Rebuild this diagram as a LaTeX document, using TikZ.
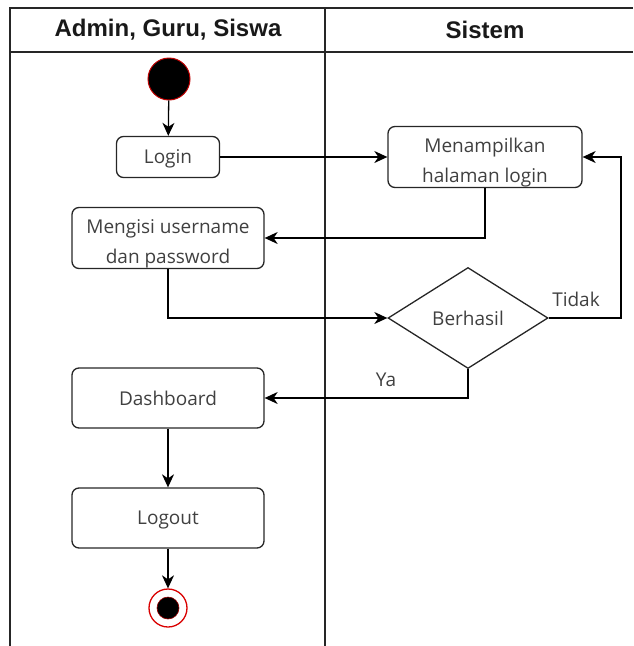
\documentclass[tikz,border=0pt]{standalone}
\usepackage{fontspec}
\setmainfont{Open Sans}
\newfontfamily\headfont{Liberation Sans}
\usetikzlibrary{arrows.meta,shapes.geometric}
\tikzset{
  lane/.style={draw=black!85, line width=1.8pt},
  act/.style={draw=black!85, line width=1.3pt, rounded corners=7pt, align=center,
    inner sep=0pt, text=black!75, text depth=0pt, font=\fontsize{19}{30}\selectfont},
  twoline/.style={text height=50pt, text depth=0pt},
  decision/.style={diamond, draw=black!85, line width=1.3pt, inner sep=0pt,
    minimum width=160pt, minimum height=101pt, text=black!75,
    font=\fontsize{19}{30}\selectfont},
  flow/.style={draw=black, line width=1.3pt,
    -{Stealth[length=13pt,width=12pt,inset=4pt]}},
  lbl/.style={text=black!75, font=\fontsize{19}{24}\selectfont, inner sep=0pt},
  head/.style={font=\headfont\bfseries\fontsize{24}{28}\selectfont, text=black!90}
}
\begin{document}
\begin{tikzpicture}[x=1pt,y=-1pt]
\useasboundingbox (0,0) rectangle (633,646);
% swimlane frame
\draw[lane] (10,646) -- (10,8) -- (633,8);
\draw[lane] (10,52) -- (633,52);
\draw[lane] (325,8) -- (325,646);
\node[head] (laneA) at (168,30) {Admin, Guru, Siswa};
\node[head] (laneB) at (485,30) {Sistem};

% start and end states
\node[circle, fill=black, draw=red!75!black, line width=1pt, minimum size=42pt, inner sep=0pt] (start) at (169,79) {};
\node[circle, draw=red!85!black, line width=1.3pt, minimum size=38pt, inner sep=0pt] (end) at (168,608) {};
\node[circle, fill=black, draw=red!60!black, line width=0.6pt, minimum size=22pt, inner sep=0pt] (endcore) at (end.center) {};

% activities
\node[act, minimum width=103pt, minimum height=41pt] (login) at (168,157) {Login};
\node[act, twoline, minimum width=194pt, minimum height=61pt] (tampil) at (485,157) {Menampilkan\\halaman login};
\node[act, twoline, minimum width=192pt, minimum height=61pt] (isi) at (168,238) {Mengisi username\\dan password};
\node[decision] (cek) at (468,318) {\raisebox{-2pt}{Berhasil}};
\node[act, minimum width=192pt, minimum height=60pt] (dash) at (168,398) {Dashboard};
\node[act, minimum width=192pt, minimum height=60pt] (logout) at (168,518) {Logout};
\coordinate (retry) at (621,318);

% flows
\draw[flow] (start) -- (login);
\draw[flow] (login) -- (tampil);
\draw[flow] (tampil.south) |- (isi.east);
\draw[flow] (isi.south) |- (cek.west);
\draw[flow] (cek.east) -- (retry) |- (tampil.east);
\draw[flow] (cek.south) |- (dash.east);
\draw[flow] (dash) -- (logout);
\draw[flow] (logout) -- (end);

% guard labels
\node[lbl] (tidak) at (576,299) {Tidak};
\node[lbl] (ya) at (386,380) {Ya};
\end{tikzpicture}
\end{document}
